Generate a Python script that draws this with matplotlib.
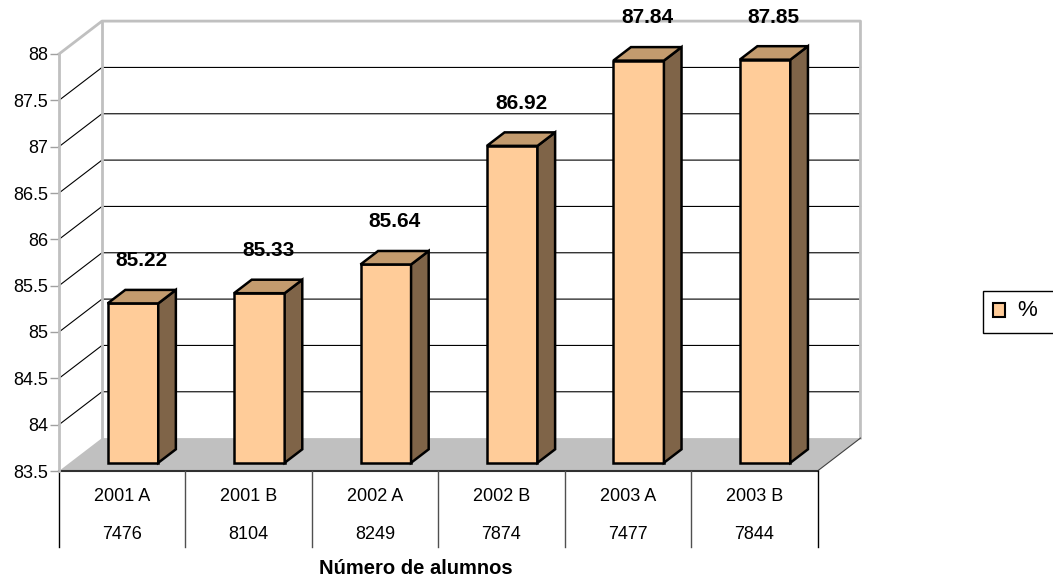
import numpy as np
import matplotlib.pyplot as plt
from matplotlib.patches import Polygon, Rectangle

plt.rcParams['font.family'] = ['Liberation Sans', 'DejaVu Sans']

semesters = ["2001 A", "2001 B", "2002 A", "2002 B", "2003 A", "2003 B"]
alumnos = ["7476", "8104", "8249", "7874", "7477", "7844"]
porcentaje = [85.22, 85.33, 85.64, 86.92, 87.84, 87.85]

ymin, ymax = 83.5, 88.0
yticks = np.arange(ymin, ymax + 0.01, 0.5)

# 3d look: depth of the floor in data units, and where the bars sit in it
DX, DY = 0.34, 0.355
t0, t1 = 0.25, 0.66
bar_w = 0.40

front = "#ffcc99"
top_c = "#c39b6e"
side_c = "#7f6448"
wall = "#c0c0c0"

W, H = 1053, 581
fig = plt.figure(figsize=(W / 100, H / 100), dpi=100)
ax = fig.add_axes([59 / W, (H - 471) / H, 758.5 / W, 417 / H])
ax.set_xlim(0, len(semesters))
ax.set_ylim(ymin, ymax)

for s in ["top", "right", "bottom"]:
    ax.spines[s].set_visible(False)
ax.spines["left"].set_color(wall)
ax.spines["left"].set_linewidth(2)
ax.set_xticks([])
ax.set_yticks(yticks)
ax.set_yticklabels(["%g" % v for v in yticks])
ax.tick_params(axis="y", direction="out", length=6.5, width=1, color="#a0a0a0",
               labelsize=13, pad=1.5)

n = len(semesters)
kw = dict(clip_on=False)

# floor
ax.add_patch(Polygon([(0, ymin), (n, ymin), (n + DX, ymin + DY), (DX, ymin + DY)],
                     closed=True, facecolor=wall, edgecolor="none", zorder=1, **kw))
ax.plot([n, n + DX], [ymin, ymin + DY], color="#404040", lw=0.8, zorder=2, **kw)

# gridlines on left and back walls
for v in yticks[1:-1]:
    ax.plot([0, DX, n + DX], [v, v + DY, v + DY], color="black", lw=0.8, zorder=1, **kw)

# wall borders
ax.plot([0, DX, n + DX, n + DX], [ymax, ymax + DY, ymax + DY, ymin + DY],
        color=wall, lw=2, zorder=1, **kw)
ax.plot([DX, DX], [ymin + DY, ymax + DY], color=wall, lw=2, zorder=1, **kw)

# bars
x0 = np.arange(n) + 0.5 - bar_w / 2 + t0 * DX
base = ymin + t0 * DY
heights = np.array(porcentaje) - ymin
ax.bar(x0, heights, width=bar_w, bottom=base, align="edge", color=front,
       edgecolor="black", linewidth=1.8, zorder=3, **kw)
ddx, ddy = (t1 - t0) * DX, (t1 - t0) * DY
for xl, v in zip(x0, porcentaje):
    xr = xl + bar_w
    top = v + t0 * DY
    ax.add_patch(Polygon([(xr, base), (xr + ddx, base + ddy), (xr + ddx, top + ddy), (xr, top)],
                         closed=True, facecolor=side_c, edgecolor="black", lw=1.8,
                         joinstyle="miter", zorder=3, **kw))
    ax.add_patch(Polygon([(xl, top), (xr, top), (xr + ddx, top + ddy), (xl + ddx, top + ddy)],
                         closed=True, facecolor=top_c, edgecolor="black", lw=1.8,
                         joinstyle="miter", zorder=3, **kw))
    ax.annotate("%.2f" % v, (xl + (bar_w + ddx) / 2, top + ddy), xytext=(0, 21),
                textcoords="offset points", ha="center", va="center",
                fontsize=15, fontweight="bold", zorder=4, annotation_clip=False)

# data table under the chart
row1, row2, tbot = 83.22, 82.81, 82.68
ax.plot([0, n], [ymin, ymin], color="#303030", lw=1.5, zorder=2, **kw)
for i in range(n + 1):
    ax.plot([i, i], [ymin, tbot], color="black" if i in (0, n) else "#505050",
            lw=1, zorder=2, **kw)
for i in range(n):
    ax.text(i + 0.5, row1, semesters[i], ha="center", va="center", fontsize=13)
    ax.text(i + 0.5, row2, alumnos[i], ha="center", va="center", fontsize=13)

fig.text(416 / W, 1 - 569 / H, "Número de alumnos", ha="center", va="center",
         fontsize=14.5, fontweight="bold")

# legend box
fig.patches.append(Rectangle((983 / W, 1 - 333 / H), 100 / W, 42 / H, transform=fig.transFigure,
                             facecolor="white", edgecolor="black", lw=1))
fig.patches.append(Rectangle((993 / W, 1 - 317 / H), 12 / W, 14 / H, transform=fig.transFigure,
                             facecolor=front, edgecolor="black", lw=1.5))
fig.text(1017 / W, 1 - 311 / H, "%", ha="left", va="center", fontsize=16)

fig.savefig("out.png", dpi=100)
